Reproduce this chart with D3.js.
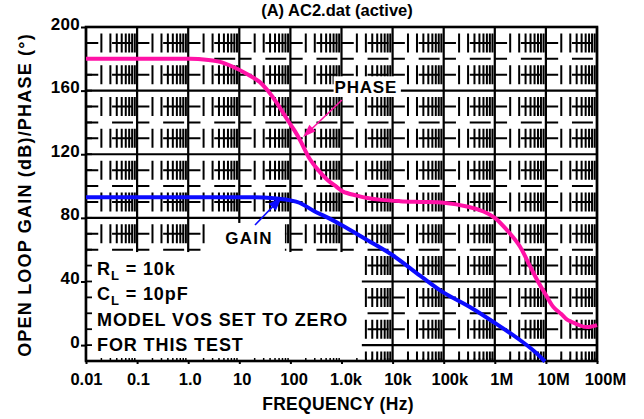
<!DOCTYPE html>
<html><head><meta charset="utf-8">
<script src="https://cdn.jsdelivr.net/npm/d3@7"></script>
<style>
html,body{margin:0;padding:0;background:#fff;}
svg{display:block;font-family:"Liberation Sans",Arial,sans-serif;font-weight:bold;}
</style></head>
<body>
<svg id="chart" width="644" height="419"></svg>
<script>
// ---- data ----
const decadeValues = [1e-2,1e-1,1,1e1,1e2,1e3,1e4,1e5,1e6,1e7,1e8];
const freqLabels = ["0.01","0.1","1.0","10","100","1.0k","10k","100k","1M","10M","100M"];
const yTickValues = [0,40,80,120,160,200];
const yTickLabels = ["0","40","80","120","160","200"];

const phaseFreq = [0.01,0.1,1,2,4,7.5,15,25,35,55,86,120,154,240,350,525,800,1070,2000,3200,6000,14000,35000,100000,300000,600000,1e6,2e6,3.1e6,5e6,7e6,1e7,1.4e7,2e7,2.6e7,4e7,5.5e7,7.5e7,1e8];
const phaseDeg  = [180,180,180,179.6,178.2,175,170,165.5,160.5,152,142,135,129,117,110,104,99.5,96.5,94,92.5,91.3,90.5,90,89.5,87,84,80,70,62,49,40,31.5,24,19.5,16,13.2,11.6,11.6,12.6];

const gainFreq = [0.01,1,10,30,60,100,150,300,550,1000,3200,10000,35000,100000,325000,1e6,3.1e6,6e6,9.6e6];
const gainDb   = [93,93,93,92.8,92,91,89.5,84,80,75.5,66,56.5,43.5,33,24,14,3.2,-4,-10.3];

const legendLines = [["R","L"," = 10k"],["C","L"," = 10pF"],["MODEL VOS SET TO ZERO"],["FOR THIS TEST"]];

// ---- scales ----
const svg = d3.select("#chart");
const x = d3.scaleLog().domain([0.01,1e8]).range([86,597]);
const y = d3.scaleLinear().domain([-10,200]).range([361,27]);
const pink = "#ff12a6", blue = "#0c0cff";

// ---- grid ----
const grid = svg.append("g");
const minorX = [];
for (let d=-2; d<8; d++) for (let k=2;k<=9;k++) minorX.push(k*Math.pow(10,d));
const unit = y(0)-y(10);             // px per 10 units
const dashV = 19, gapV = 2*unit - dashV;
const startOff = (y(190)-y(200)) - dashV/2;
grid.selectAll(".mv").data(minorX).join("line")
  .attr("x1",d=>x(d)).attr("x2",d=>x(d))
  .attr("y1",y(200)).attr("y2",y(-10))
  .attr("stroke","#000").attr("stroke-width",2)
  .attr("stroke-dasharray",`${dashV},${gapV}`)
  .attr("stroke-dashoffset", dashV+gapV-startOff);

const minorY = d3.range(10,200,10).filter(v=>v%40!==0);
const dec = x(10)-x(1);
grid.selectAll(".mh").data(minorY).join("line")
  .attr("x1",x(0.01)).attr("x2",x(1e8))
  .attr("y1",d=>y(d)).attr("y2",d=>y(d))
  .attr("stroke","#000").attr("stroke-width",2)
  .attr("stroke-dasharray",`${0.24*dec},${0.27*dec},${0.41*dec},${0.08*dec}`);

grid.selectAll(".MV").data(decadeValues).join("line")
  .attr("x1",d=>x(d)).attr("x2",d=>x(d))
  .attr("y1",y(200)).attr("y2",y(-10))
  .attr("stroke","#000").attr("stroke-width",2.2);
grid.selectAll(".MH").data(yTickValues).join("line")
  .attr("x1",x(0.01)).attr("x2",x(1e8))
  .attr("y1",d=>y(d)).attr("y2",d=>y(d))
  .attr("stroke","#000").attr("stroke-width",2.2);

// ---- white label boxes ----
const boxes = [
  {f0:0.0102, f1:2500, v0:-9.4, v1:58.5},
  {f0:2.67, f1:78, v0:58, v1:76.8},
  {f0:700, f1:14500, v0:156, v1:169}
];
svg.selectAll(".box").data(boxes).join("rect")
  .attr("x",d=>x(d.f0)).attr("y",d=>y(d.v1))
  .attr("width",d=>x(d.f1)-x(d.f0)).attr("height",d=>y(d.v0)-y(d.v1))
  .attr("fill","#fff");

// ---- axes ----
const minorTicksY = d3.range(-10,201,10);
svg.append("g").selectAll("line").data(minorTicksY).join("line")
  .attr("x1",x(0.01)).attr("x2",x(0.01)+6)
  .attr("y1",d=>y(d)).attr("y2",d=>y(d))
  .attr("stroke","#000").attr("stroke-width",1.8);
svg.append("g").selectAll("line").data(minorX).join("line")
  .attr("x1",d=>x(d)).attr("x2",d=>x(d))
  .attr("y1",y(-10)).attr("y2",y(-10)-3)
  .attr("stroke","#000").attr("stroke-width",1.5);

const xAxis = svg.append("g").attr("transform",`translate(0,${y(-10)})`)
  .call(d3.axisBottom(x).tickValues(decadeValues)
    .tickFormat((d,i)=>freqLabels[i]).tickSizeInner(3).tickSizeOuter(0).tickPadding(9));
xAxis.select(".domain").remove();
xAxis.selectAll(".tick line").attr("stroke-width",2);
xAxis.selectAll(".tick text").attr("font-size",16.5).attr("font-weight","bold")
  .attr("font-family","Liberation Sans, Arial, sans-serif").attr("fill","#000")
  .attr("dx",(d,i)=>i*0.8);

const yAxis = svg.append("g").attr("transform",`translate(${x(0.01)},0)`)
  .call(d3.axisLeft(y).tickValues(yTickValues)
    .tickFormat((d,i)=>yTickLabels[i]).tickSizeInner(5).tickSizeOuter(0).tickPadding(1));
yAxis.select(".domain").remove();
yAxis.selectAll(".tick line").attr("stroke-width",2);
yAxis.selectAll(".tick text").attr("font-size",17).attr("font-weight","bold")
  .attr("font-family","Liberation Sans, Arial, sans-serif").attr("fill","#000")
  .attr("dy",2).attr("letter-spacing",0.3);

svg.append("rect").attr("x",x(0.01)).attr("y",y(200))
  .attr("width",x(1e8)-x(0.01)).attr("height",y(-10)-y(200))
  .attr("fill","none").attr("stroke","#000").attr("stroke-width",2.6);

// ---- curves ----
const line = d3.line().curve(d3.curveCatmullRom.alpha(0.5));
svg.append("path")
  .attr("d",line(phaseFreq.map((f,i)=>[x(f),y(phaseDeg[i])])))
  .attr("fill","none").attr("stroke",pink).attr("stroke-width",4);
svg.append("path")
  .attr("d",line(gainFreq.map((f,i)=>[x(f),y(gainDb[i])])))
  .attr("fill","none").attr("stroke",blue).attr("stroke-width",4);

// ---- annotations ----
function arrow(fromF,fromV,toF,toV,color,len,wid){
  const x0=x(fromF),y0=y(fromV),x1=x(toF),y1=y(toV);
  const a=Math.atan2(y1-y0,x1-x0);
  const bx=x1-len*Math.cos(a), by=y1-len*Math.sin(a);
  svg.append("line").attr("x1",x0).attr("y1",y0).attr("x2",bx+2*Math.cos(a)).attr("y2",by+2*Math.sin(a))
    .attr("stroke",color).attr("stroke-width",1.6);
  const px=-Math.sin(a)*wid/2, py=Math.cos(a)*wid/2;
  svg.append("path").attr("d",`M${x1},${y1}L${bx+px},${by+py}L${bx-px},${by-py}Z`).attr("fill",color);
}
arrow(1020,154.1,177,130.8,pink,13,9);
arrow(20.3,75.5,68.5,93.1,blue,14,10);

svg.append("text").attr("x",x(3000)).attr("y",y(158.5)).attr("text-anchor","middle")
  .attr("font-size",17).attr("letter-spacing",0.8).text("PHASE");
svg.append("text").attr("x",x(15.5)).attr("y",y(63.6)).attr("text-anchor","middle")
  .attr("font-size",17).attr("letter-spacing",1.2).text("GAIN");

// legend text
const lg = svg.append("g");
legendLines.forEach((ln,i)=>{
  const t = lg.append("text").attr("x",97).attr("y",y(44)+i*25.2).attr("font-size",18)
    .attr("letter-spacing",0.9);
  if (ln.length===3){
    t.append("tspan").text(ln[0]);
    t.append("tspan").attr("font-size",13).attr("dy",5).text(ln[1]);
    t.append("tspan").attr("dy",-5).text(ln[2]);
  } else t.text(ln[0]);
});

// titles
svg.append("text").attr("x",337).attr("y",y(200)-11).attr("text-anchor","middle")
  .attr("font-size",16.5).text("(A) AC2.dat (active)");
svg.append("text").attr("x",338).attr("y",410).attr("text-anchor","middle")
  .attr("font-size",17.5).attr("letter-spacing",0.3).text("FREQUENCY (Hz)");
svg.append("text").attr("transform",`translate(31,195) rotate(-90)`).attr("text-anchor","middle")
  .attr("font-size",18).attr("letter-spacing",1.2).text("OPEN LOOP GAIN (dB)/PHASE (°)");
</script>
</body></html>
